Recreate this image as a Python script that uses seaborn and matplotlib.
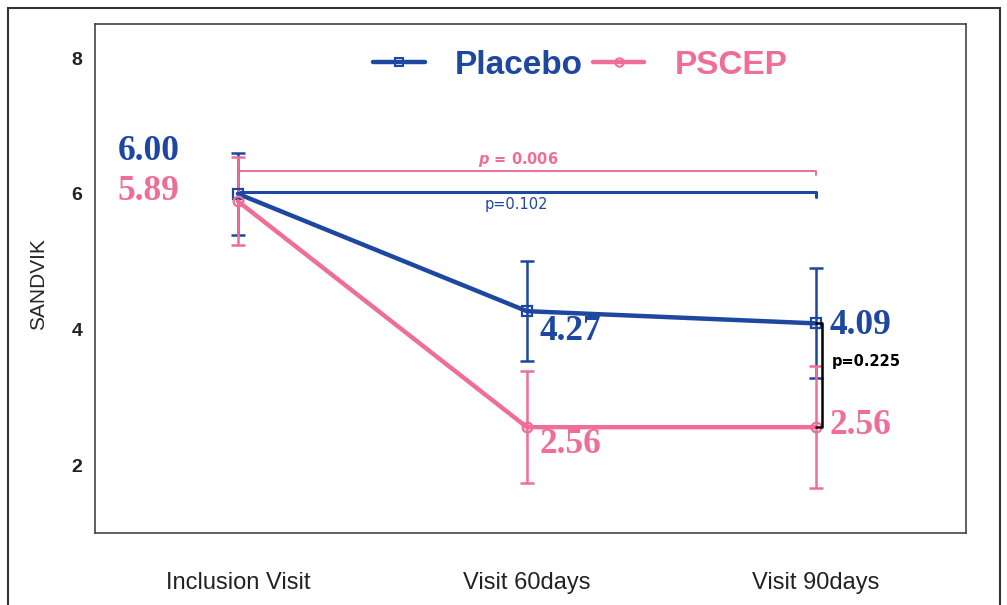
import numpy as np
import pandas as pd
import seaborn as sns
import matplotlib.pyplot as plt
from matplotlib.lines import Line2D
from matplotlib.patches import Rectangle
from matplotlib import font_manager

sns.set_style("white")

# data
visits = ["Inclusion Visit", "Visit 60days", "Visit 90days"]
placebo_mean = [6.00, 4.27, 4.09]
placebo_err = [0.60, 0.74, 0.81]
pscep_mean = [5.89, 2.56, 2.56]
pscep_err = [0.65, 0.83, 0.90]
yticks = [2, 4, 6, 8]

BLUE = "#1d47a0"
PINK = "#ee6e98"

installed = {f.name for f in font_manager.fontManager.ttflist}
narrow = "Liberation Sans Narrow" if "Liberation Sans Narrow" in installed else "Liberation Sans"
plt.rcParams["font.family"] = ["Liberation Sans", "DejaVu Sans"]

df = pd.DataFrame({
    "visit": list(range(3)) * 2,
    "score": placebo_mean + pscep_mean,
    "group": ["Placebo"] * 3 + ["PSCEP"] * 3,
})

fig = plt.figure(figsize=(10.07, 6.05), dpi=100)
ax = fig.add_axes([0.0943, 0.119, 0.865, 0.841])

# outer frame
fig.patches.append(Rectangle((8 / 1007, -0.02), 992 / 1007, 1 - 8 / 605 + 0.02,
                             transform=fig.transFigure, fill=False,
                             edgecolor="#333333", linewidth=1.5))

x = np.arange(3)
for means, errs, col in [(placebo_mean, placebo_err, BLUE), (pscep_mean, pscep_err, PINK)]:
    eb = ax.errorbar(x, means, yerr=errs, fmt="none", ecolor=col,
                     elinewidth=1.8, capsize=5, capthick=1.8, zorder=2)
    for cap in eb[1]:
        cap.set_color(col)
        cap.set_markeredgecolor(col)
        cap.set_markerfacecolor(col)

sns.lineplot(data=df, x="visit", y="score", hue="group", style="group",
             palette={"Placebo": BLUE, "PSCEP": PINK},
             markers={"Placebo": "s", "PSCEP": "o"}, dashes=False,
             linewidth=3.2, markersize=7, legend=False, ax=ax, zorder=3)
for line in ax.get_lines():
    if line.get_marker() in ("s", "o"):
        c = line.get_color()
        line.set_markerfacecolor("none")
        line.set_markeredgecolor(c)
        line.set_markeredgewidth(1.6)

# p-value brackets
ax.plot([0, 2, 2], [6.34, 6.34, 6.28], color=PINK, lw=1.4, zorder=1)
ax.text(0.97, 6.50, r"$\mathbfit{p}$ = 0.006", color=PINK, fontsize=10.5,
        fontweight="bold", ha="center", va="center", family="DejaVu Sans")
ax.plot([0, 2, 2], [6.03, 6.03, 5.96], color=BLUE, lw=2.2, zorder=1)
ax.text(0.965, 5.84, "p=0.102", color=BLUE, fontsize=10.5,
        ha="center", va="center", family="DejaVu Sans")
ax.plot([2.0, 2.022, 2.022, 2.0], [placebo_mean[2], placebo_mean[2], pscep_mean[2], pscep_mean[2]],
        color="black", lw=1.8, zorder=4)
ax.text(2.055, 3.53, "p=0.225", color="black", fontsize=10.5, fontweight="bold",
        ha="left", va="center", family="DejaVu Sans")

# value labels
labels = [
    (-0.31, 6.63, placebo_mean[0], BLUE, "center"),
    (-0.31, 6.03, pscep_mean[0], PINK, "center"),
    (1.045, 3.97, placebo_mean[1], BLUE, "left"),
    (1.045, 2.30, pscep_mean[1], PINK, "left"),
    (2.048, 4.06, placebo_mean[2], BLUE, "left"),
    (2.048, 2.59, pscep_mean[2], PINK, "left"),
]
for lx, ly, val, col, ha in labels:
    ax.text(lx, ly, f"{val:.2f}", color=col, ha=ha, va="center",
            family="Liberation Serif", fontweight="heavy", fontsize=25.5)

# axes
ax.set_xlim(-0.495, 2.52)
ax.set_ylim(1.0, 8.5)
ax.set_xticks(x)
ax.set_xticklabels(visits, fontsize=17, family=narrow)
ax.set_yticks(yticks)
ax.set_yticklabels([str(t) for t in yticks], fontsize=14, fontweight="bold", family=narrow)
ax.set_xlabel("")
ax.set_ylabel("SANDVIK", fontsize=15, family=narrow)
ax.yaxis.set_label_coords(-0.054, 0.49)
ax.tick_params(axis="x", direction="out", length=8, width=1, pad=20, colors="#222222")
ax.tick_params(axis="y", direction="out", length=5, width=1, pad=4, colors="#222222")
for s in ax.spines.values():
    s.set_color("#444444")
    s.set_linewidth(1.2)

# legend
handles = [
    Line2D([], [], color=BLUE, lw=3.2, marker="s", markersize=6, mfc="none", mec=BLUE, mew=1.5),
    Line2D([], [], color=PINK, lw=3.2, marker="o", markersize=6, mfc="none", mec=PINK, mew=1.5),
]
leg_font = {"family": narrow, "weight": "bold", "size": 27 if narrow != "Liberation Sans" else 24}
leg = ax.legend(handles, ["Placebo", "PSCEP"], ncol=2, loc="center",
                bbox_to_anchor=(0.557, 0.919), frameon=False, prop=leg_font,
                handlelength=1.55, handletextpad=0.9, columnspacing=0.3)
for t, c in zip(leg.get_texts(), [BLUE, PINK]):
    t.set_color(c)

fig.savefig("out.png", dpi=100)
